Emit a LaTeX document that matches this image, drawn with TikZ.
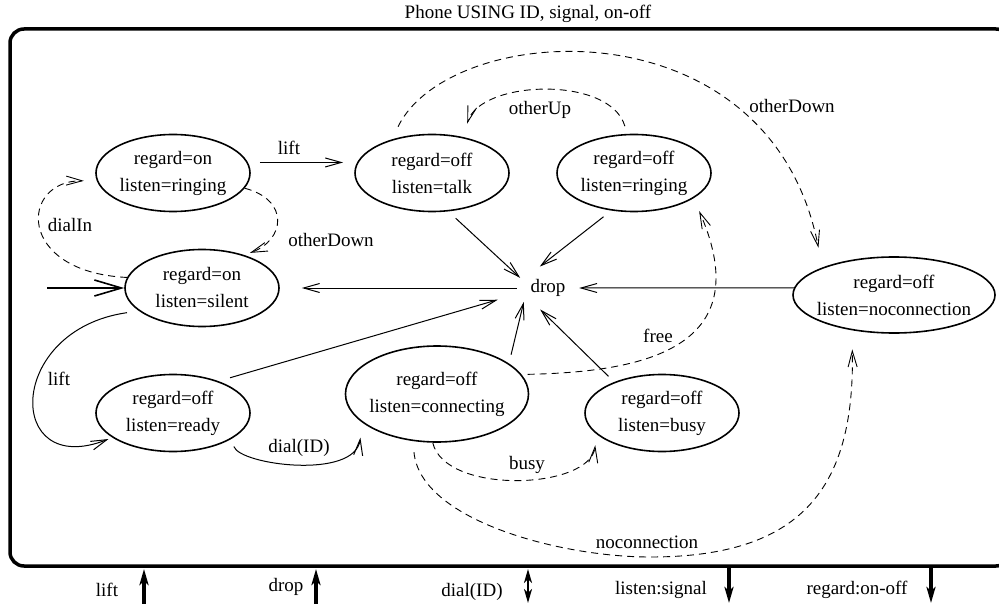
\documentclass[tikz,border=0pt]{standalone}
\usepackage{fontspec}
\setmainfont{Liberation Serif}
\usetikzlibrary{arrows.meta,shapes.geometric}

\begin{document}
\begin{tikzpicture}[x=1pt,y=-1pt,>={Straight Barb[length=16pt,width=9pt]},
  font=\fontsize{19}{27}\selectfont]

  \tikzstyle{state}=[ellipse,draw,line width=1.6pt,inner sep=0pt,
                     minimum width=154pt,minimum height=77pt,align=center]
  \tikzstyle{trans}=[->,line width=1pt]
  \tikzstyle{signal}=[->,line width=0.9pt,dash pattern=on 7pt off 5pt]
  \tikzstyle{port}=[line width=3.5pt,-{Stealth[length=16pt,width=9pt,inset=4pt]}]
  \tikzstyle{dualport}=[line width=2pt,
    {Stealth[length=14pt,width=8pt,inset=4pt]}-{Stealth[length=14pt,width=8pt,inset=4pt]}]

  \useasboundingbox (0,0) rectangle (999,604);

  % frame and title
  \node (title) at (528,14) {Phone USING ID, signal, on-off};
  \draw [line width=3.5pt,rounded corners=14pt] (10,29) rectangle (1010,566);

  % states
  \node [state] (ring)   at (173,173) {regard=on\\listen=ringing};
  \node [state] (talk)   at (432,173) {regard=off\\listen=talk};
  \node [state] (oring)  at (634,173) {regard=off\\listen=ringing};
  \node [state] (silent) at (202,288) {regard=on\\listen=silent};
  \node [state,minimum width=202pt,minimum height=76pt,inner xsep=-8pt]
                (nocon)  at (894,295) {regard=off\\listen=noconnection};
  \node [state] (ready)  at (173,413) {regard=off\\listen=ready};
  \node [state,minimum width=183pt,minimum height=96pt,inner xsep=-3pt]
                (conn)   at (437,394) {regard=off\\listen=connecting};
  \node [state] (busy)   at (662,413) {regard=off\\listen=busy};
  \node [ellipse,inner sep=0pt,minimum width=62pt,minimum height=44pt]
                (drop)   at (548,288) {drop};

  % initial state
  \coordinate (init) at (47,288);
  \draw [line width=1.6pt,-{Straight Barb[length=27pt,width=16pt]}] (init) -- (silent.west);

  % transitions
  \draw [trans,shorten <=12pt,shorten >=14pt] (ring.8) -- (talk.172);
  \draw [trans,shorten <=12pt,shorten >=4pt] (silent.-160)
    .. controls (5,330) and (5,480) .. (ready.-158);
  \draw [trans,shorten <=8pt,shorten >=15pt] (ready.-24)
    .. controls (240,465) and (355,480) .. (conn.-159);
  \draw [trans,shorten <=10pt] (talk.-67) -- (drop.160);
  \draw [trans,shorten <=10pt] (oring.-121) -- (drop.111);
  \draw [trans,shorten >=22pt] (drop.180) -- (silent.east);
  \draw [trans] (nocon.176) -- (drop.0);
  \draw [trans,shorten <=12pt,shorten >=21pt] (ready.35) -- (drop.191);
  \draw [trans,shorten <=9pt] (conn.23) -- (drop.210);
  \draw [trans,shorten <=8pt] (busy.147) -- (drop.250);

  % signals
  \draw [signal,shorten >=13pt] (silent.172)
    .. controls (15,272) and (20,180) .. (ring.186);
  \draw [signal,shorten >=6pt] (ring.-12)
    .. controls (290,200) and (285,240) .. (silent.38);
  \draw [signal,shorten <=8pt,shorten >=14pt] (oring.100)
    .. controls (610,75) and (480,80) .. (talk.49);
  \draw [signal,shorten <=14pt,shorten >=20pt] (talk.140)
    .. controls (450,20) and (770,0) .. (nocon.159);
  \draw [signal,shorten <=6pt,shorten >=14pt] (conn.13)
    .. controls (640,372) and (760,350) .. (oring.-23);
  \draw [signal,shorten >=11pt] (conn.-95)
    .. controls (445,495) and (590,490) .. (busy.198);
  \draw [signal,shorten <=11pt,shorten >=19pt] (conn.-117)
    .. controls (420,520) and (560,557) .. (650,557)
    .. controls (800,557) and (855,490) .. (nocon.220);

  % labels
  \node (lLift)     at (289,148) {lift};
  \node (lDialIn)   at (70,225)  {dialIn};
  \node (lOtherDn)  at (331,240) {otherDown};
  \node (lOtherUp)  at (540,110) {otherUp};
  \node (lOtherDn2) at (792,106) {otherDown};
  \node (lFree)     at (658,336) {free};
  \node (lLift2)    at (59,379)  {lift};
  \node (lDial)     at (299,448) {dial(ID)};
  \node (lBusy)     at (527,465) {busy};
  \node (lNoconn)   at (647,542) {noconnection};

  % interface
  \coordinate (pLiftA)   at (144,604);  \coordinate (pLiftB)   at (144,569);
  \coordinate (pDropA)   at (316,604);  \coordinate (pDropB)   at (316,569);
  \coordinate (pDialA)   at (528,603);  \coordinate (pDialB)   at (528,569);
  \coordinate (pListenA) at (729,567);  \coordinate (pListenB) at (729,603);
  \coordinate (pRegardA) at (931,567);  \coordinate (pRegardB) at (931,603);
  \draw [port] (pLiftA) -- (pLiftB);
  \draw [port] (pDropA) -- (pDropB);
  \draw [dualport] (pDialA) -- (pDialB);
  \draw [port] (pListenA) -- (pListenB);
  \draw [port] (pRegardA) -- (pRegardB);

  \node (iLift)   at (107,590) {lift};
  \node (iDrop)   at (286,587) {drop};
  \node (iDial)   at (472,592) {dial(ID)};
  \node (iListen) at (661,590) {listen:signal};
  \node (iRegard) at (857,590) {regard:on-off};
\end{tikzpicture}
\end{document}
